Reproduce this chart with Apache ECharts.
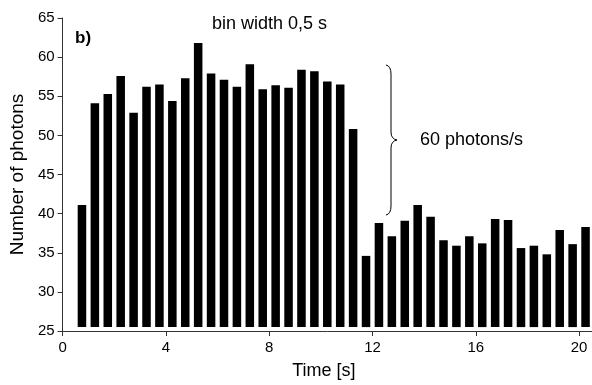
<!DOCTYPE html>
<html>
<head>
<meta charset="utf-8">
<script src="https://cdn.jsdelivr.net/npm/echarts@6/dist/echarts.min.js"></script>
<style>
  html, body { margin: 0; padding: 0; background: #fff; }
  #chart { width: 592px; height: 385px; }
</style>
</head>
<body>
<div id="chart"></div>
<script>
// bin centres [s] and photon counts per 0.5 s bin
const binTimes = [
  0.75, 1.25, 1.75, 2.25, 2.75, 3.25, 3.75, 4.25, 4.75, 5.25,
  5.75, 6.25, 6.75, 7.25, 7.75, 8.25, 8.75, 9.25, 9.75, 10.25,
  10.75, 11.25, 11.75, 12.25, 12.75, 13.25, 13.75, 14.25, 14.75, 15.25,
  15.75, 16.25, 16.75, 17.25, 17.75, 18.25, 18.75, 19.25, 19.75, 20.25
];
const photonCounts = [
  41.1, 54.1, 55.3, 57.6, 52.9, 56.2, 56.5, 54.4, 57.3, 61.8,
  57.9, 57.1, 56.2, 59.1, 55.9, 56.4, 56.1, 58.4, 58.2, 56.9,
  56.5, 50.8, 34.6, 38.8, 37.1, 39.1, 41.1, 39.6, 36.6, 35.9,
  37.1, 36.2, 39.3, 39.2, 35.6, 35.9, 34.8, 37.9, 36.1, 38.3
];
const barBase = 25.5;
const binWidth = 0.5;
const xTicks = [0, 4, 8, 12, 16, 20];
const yTicks = [25, 30, 35, 40, 45, 50, 55, 60, 65];

const chart = echarts.init(document.getElementById("chart"));
const font = "Liberation Sans, Arial, sans-serif";

// curly brace next to the high-rate section
const braceStyle = { stroke: "#000", fill: "none", lineWidth: 1 };
const brace = [
  { type: "bezierCurve", shape: { x1: 386, y1: 65, cpx1: 391, cpy1: 66, x2: 391, y2: 74 } },
  { type: "line", shape: { x1: 391, y1: 74, x2: 391, y2: 132 } },
  { type: "bezierCurve", shape: { x1: 391, y1: 132, cpx1: 391, cpy1: 139, x2: 397, y2: 140 } },
  { type: "bezierCurve", shape: { x1: 397, y1: 140, cpx1: 391, cpy1: 141, x2: 391, y2: 148 } },
  { type: "line", shape: { x1: 391, y1: 148, x2: 391, y2: 206 } },
  { type: "bezierCurve", shape: { x1: 391, y1: 206, cpx1: 391, cpy1: 214, x2: 386, y2: 215 } }
].map((el) => Object.assign(el, { style: braceStyle }));

const option = {
  animation: false,
  grid: { left: 60, right: 0, top: 18, bottom: 49 },
  xAxis: {
    type: "value",
    min: 0,
    max: 20.5,
    interval: 4,
    name: "Time [s]",
    nameLocation: "middle",
    nameGap: 31,
    nameTextStyle: { fontFamily: font, fontSize: 18, color: "#000", padding: [0, 7, 0, 0] },
    axisLine: { show: true, lineStyle: { color: "#333", width: 1 } },
    axisTick: { show: true, length: 5, lineStyle: { color: "#333" } },
    axisLabel: {
      fontFamily: font, fontSize: 15, color: "#000", margin: 9,
      showMaxLabel: false,
      formatter: (v) => (xTicks.includes(v) ? String(v) : "")
    },
    splitLine: { show: false }
  },
  yAxis: {
    type: "value",
    min: yTicks[0],
    max: yTicks[yTicks.length - 1],
    interval: 5,
    name: "Number of photons",
    nameLocation: "middle",
    nameGap: 34,
    nameTextStyle: { fontFamily: font, fontSize: 19, color: "#000" },
    axisLine: { show: true, lineStyle: { color: "#333", width: 1 } },
    axisTick: { show: true, length: 5, lineStyle: { color: "#333" } },
    axisLabel: { fontFamily: font, fontSize: 15, color: "#000", margin: 8 },
    splitLine: { show: false }
  },
  series: [
    {
      type: "custom",
      data: binTimes.map((t, i) => [t, photonCounts[i]]),
      encode: { x: 0, y: 1 },
      renderItem: (params, api) => {
        const t = api.value(0);
        const top = api.coord([t, api.value(1)]);
        const bottom = api.coord([t, barBase]);
        const w = api.size([binWidth, 0])[0] * 0.66;
        return {
          type: "rect",
          shape: { x: top[0] - w / 2, y: top[1], width: w, height: bottom[1] - top[1] },
          style: { fill: "#000" }
        };
      }
    }
  ],
  graphic: [
    {
      type: "text", left: 75, top: 30,
      style: { text: "b)", font: "bold 17px " + font, fill: "#000" }
    },
    {
      type: "text", left: 212, top: 15,
      style: { text: "bin width 0,5 s", font: "18px " + font, fill: "#000" }
    },
    {
      type: "text", left: 420, top: 131,
      style: { text: "60 photons/s", font: "18px " + font, fill: "#000" }
    }
  ].concat(brace)
};

chart.setOption(option);
</script>
</body>
</html>
